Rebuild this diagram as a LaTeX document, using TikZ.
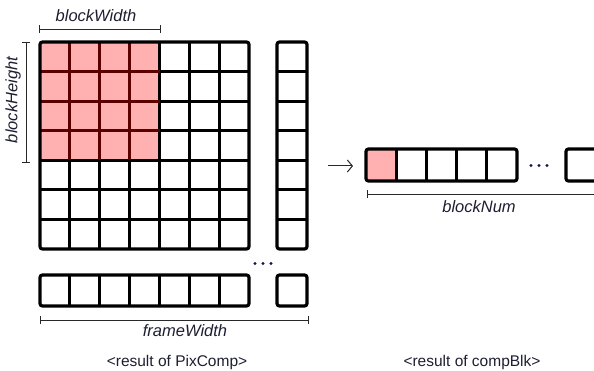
\documentclass[tikz,border=0pt]{standalone}
\usepackage{fontspec}
\setmainfont{Liberation Sans}
\usetikzlibrary{arrows.meta}
\definecolor{pinkfill}{RGB}{255,176,176}
\definecolor{maroon}{RGB}{90,0,0}
\definecolor{dimgray}{RGB}{40,40,40}
\definecolor{dotblue}{RGB}{20,20,70}
\definecolor{labelcol}{RGB}{30,30,50}
\tikzset{
  gridln/.style={line width=3.2pt, black},
  outerbox/.style={line width=3.2pt, black, rounded corners=2.5pt},
  innerpink/.style={line width=3.2pt, maroon},
  dimln/.style={line width=0.9pt, dimgray},
  lbl/.style={font=\fontsize{16.5}{18}\selectfont\itshape, text=labelcol, inner sep=0pt},
  caption/.style={font=\fontsize{15.5}{17}\selectfont, text=labelcol, inner sep=0pt},
  dotmark/.style={fill=dotblue},
}
\begin{document}
\begin{tikzpicture}[x=1pt,y=-1pt]
\useasboundingbox (0,0) rectangle (594,371);
\clip (0,0) rectangle (594,371);
% ---------- main grid ----------
\fill[pinkfill] (40,42) rectangle (160,160.4);
\foreach \i in {1,...,6} {
  \draw[gridln] ({40+\i*29.857},42) -- ({40+\i*29.857},249);
  \draw[gridln] (40,{42+\i*29.57}) -- (249,{42+\i*29.57});
}
\foreach \i in {1,2,3} {
  \draw[innerpink] ({40+\i*29.857},42) -- ({40+\i*29.857},160.3);
  \draw[innerpink] (40,{42+\i*29.57}) -- (160,{42+\i*29.57});
}
\draw[outerbox] (40,42) rectangle (249,249);
% right column
\foreach \i in {1,...,6} {
  \draw[gridln] (277,{42+\i*29.57}) -- (307,{42+\i*29.57});
}
\draw[outerbox] (277,42) rectangle (307,249);
% bottom row
\foreach \i in {1,...,6} {
  \draw[gridln] ({40+\i*29.857},275) -- ({40+\i*29.857},306);
}
\draw[outerbox] (40,275) rectangle (249,306);
\draw[outerbox] (277,275) rectangle (307,306);
% dots
\foreach \x in {255,263,271} \fill[dotmark] (\x,263.5) circle (1.6);
% ---------- dimension lines ----------
\coordinate (bwL) at (39,29); \coordinate (bwR) at (160,29);
\draw[dimln] (bwL) -- (bwR);
\draw[dimln] ([yshift=-4]bwL) -- ([yshift=4]bwL);
\draw[dimln] ([yshift=-4]bwR) -- ([yshift=4]bwR);
\node[lbl] (bw) at (96,16) {blockWidth};

\coordinate (bhT) at (26,42); \coordinate (bhB) at (26,162);
\draw[dimln] (bhT) -- (bhB);
\draw[dimln] ([xshift=-4]bhT) -- ([xshift=4]bhT);
\draw[dimln] ([xshift=-4]bhB) -- ([xshift=4]bhB);
\node[lbl, rotate=90] (bh) at (13,100) {blockHeight};

\coordinate (fwL) at (40,320); \coordinate (fwR) at (308,320);
\draw[dimln] (fwL) -- (fwR);
\draw[dimln] ([yshift=-4]fwL) -- ([yshift=4]fwL);
\draw[dimln] ([yshift=-4]fwR) -- ([yshift=4]fwR);
\node[lbl] (fw) at (185,331) {frameWidth};

\node[caption] (cap1) at (177,362) {<result of PixComp>};

% ---------- right strip ----------
\coordinate (arrS) at (328,166); \coordinate (arrE) at (353,166);
\draw[line width=1pt, dimgray, -{Straight Barb[length=5pt,width=12pt]}] (arrS) -- (arrE);
\fill[pinkfill] (366,149) rectangle (396,181);
\foreach \i in {1,...,4} {
  \draw[gridln] ({366+\i*30.2},149) -- ({366+\i*30.2},181);
}
\draw[outerbox] (366,149) rectangle (517,181);
\draw[outerbox] (566,149) rectangle (600,181);
\foreach \x in {531,539,547} \fill[dotmark] (\x,165.5) circle (1.6);

\coordinate (bnL) at (367,194); \coordinate (bnR) at (600,194);
\draw[dimln] (bnL) -- (bnR);
\draw[dimln] ([yshift=-4]bnL) -- ([yshift=4]bnL);
\node[lbl] (bn) at (479,207) {blockNum};

\node[caption] (cap2) at (472,362) {<result of compBlk>};
\end{tikzpicture}
\end{document}
